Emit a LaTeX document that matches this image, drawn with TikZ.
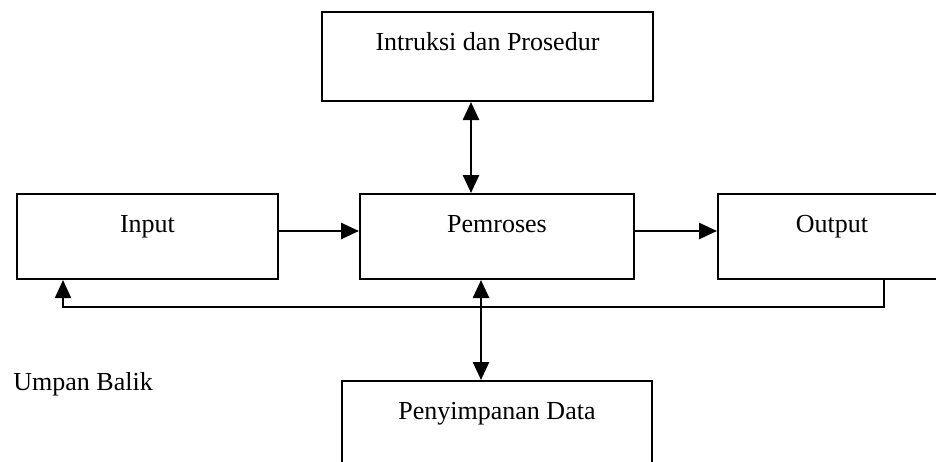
\documentclass[tikz,border=0pt]{standalone}
\usepackage{fontspec}
\setmainfont{Liberation Serif}
\usepackage{tikz}
\usetikzlibrary{arrows.meta,positioning}

\begin{document}
\begin{tikzpicture}[x=0.5pt, y=-0.5pt,
        font=\fontsize{13}{15}\selectfont,
        blok/.style={rectangle, draw, line width=1pt, inner sep=0pt, text height=19pt, text depth=23.5pt},
        panah/.style={line width=1.3pt, -{Triangle[length=9pt,width=8pt]}},
        duapanah/.style={line width=1.3pt, {Triangle[length=9pt,width=8pt]}-{Triangle[length=9pt,width=8pt]}}]
            \clip (0,0) rectangle (936,461);
            \node (instr) [blok, minimum width=165.5pt, text depth=25.5pt] at (487.5,56.5) {Intruksi dan Prosedur};
            \node (input) [blok, minimum width=130.5pt] at (147.5,236.5) {Input};
            \node (proc) [blok, minimum width=137pt] at (497,236.5) {Pemroses};
            \node (output) [blok, minimum width=114pt] at (832,236.5) {Output};
            \node (simpan) [blok, minimum width=155pt] at (497,423.5) {Penyimpanan Data};
            \node (umpan) [anchor=base west, inner sep=0pt] at (13,390) {Umpan Balik};

            \draw [panah] ([yshift=2.75pt]input.east) -- ([yshift=2.75pt]proc.west);
            \draw [panah] ([yshift=2.75pt]proc.east) -- ([yshift=2.75pt]output.west);
            \draw [duapanah] ([xshift=-13pt]proc.north |- instr.south) -- ([xshift=-13pt]proc.north);
            \draw [duapanah] ([xshift=-8pt]proc.south) -- ([xshift=-8pt]proc.south |- simpan.north);
            \draw [panah, line width=0.9pt] ([xshift=26pt]output.south) -- ++(0,27) -| ([xshift=-42.25pt]input.south);
\end{tikzpicture}
\end{document}
